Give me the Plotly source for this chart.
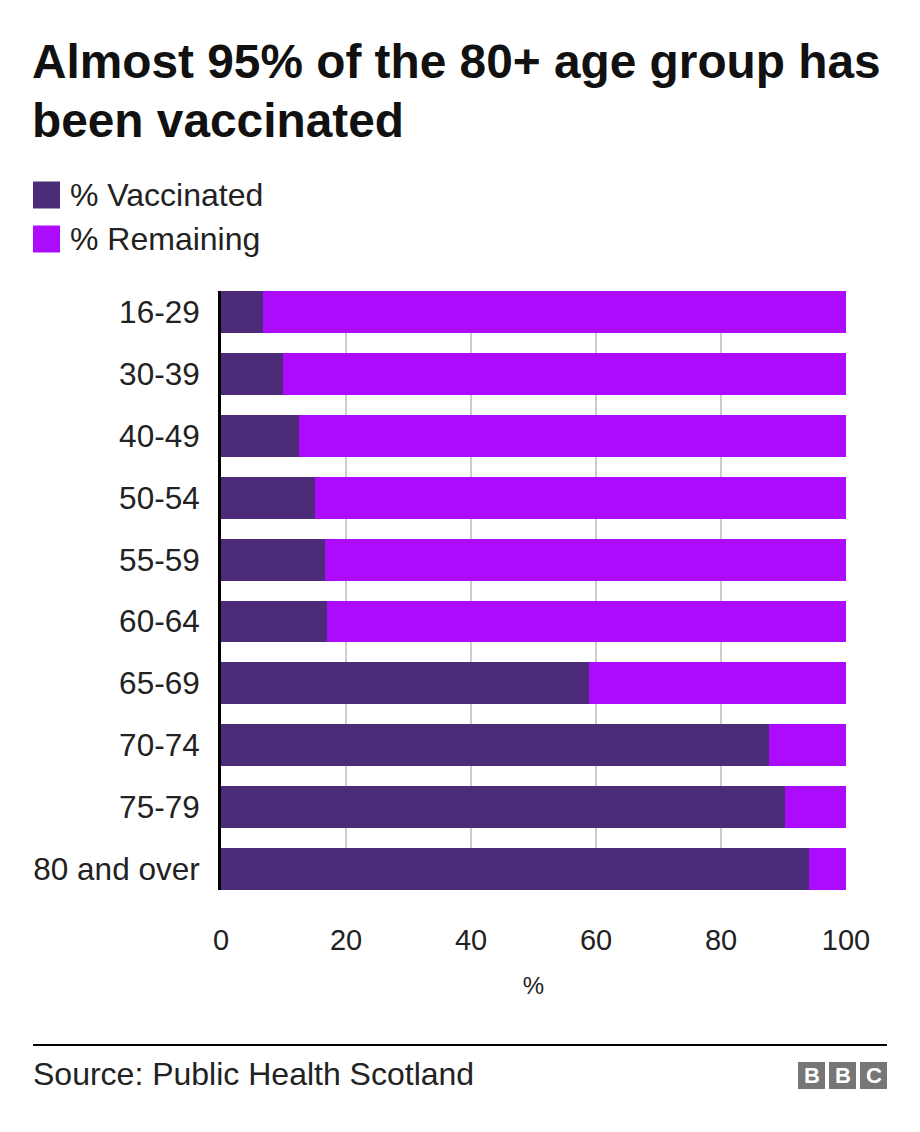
import plotly.graph_objects as go

# ---- data ----
age_groups = ["16-29", "30-39", "40-49", "50-54", "55-59", "60-64",
              "65-69", "70-74", "75-79", "80 and over"]
vaccinated = [6.7, 9.9, 12.5, 15.0, 16.6, 17.0, 58.9, 87.7, 90.2, 94.1]
remaining = [93.3, 90.1, 87.5, 85.0, 83.4, 83.0, 41.1, 12.3, 9.8, 5.9]
series_names = ["% Vaccinated", "% Remaining"]
x_ticks = [0, 20, 40, 60, 80, 100]
title_lines = ["Almost 95% of the 80+ age group has", "been vaccinated"]
source_text = "Source: Public Health Scotland"

# ---- style ----
W, H = 920, 1132
ML, MR, MT, MB = 221, 74, 291, 242
FONT = "Liberation Sans, Arial, Helvetica, sans-serif"
C_VAC = "#4c2c79"
C_REM = "#ac0bfe"
PW = W - ML - MR
PH = H - MT - MB


def px(x):
    return (x - ML) / PW


def py(y):
    return 1 - (y - MT) / PH


fig = go.Figure()
fig.add_trace(go.Bar(y=age_groups, x=vaccinated, orientation="h",
                     name=series_names[0], marker=dict(color=C_VAC, line=dict(width=0))))
fig.add_trace(go.Bar(y=age_groups, x=remaining, orientation="h",
                     name=series_names[1], marker=dict(color=C_REM, line=dict(width=0))))

half = 0.339
fig.update_layout(
    width=W, height=H,
    margin=dict(l=ML, r=MR, t=MT, b=MB),
    barmode="stack",
    bargap=0.323,
    showlegend=False,
    paper_bgcolor="white",
    plot_bgcolor="white",
    font=dict(family=FONT, color="#222222"),
    xaxis=dict(range=[0, 100], tickvals=x_ticks, showgrid=True, gridcolor="#cccccc",
               gridwidth=2, zeroline=False, showline=False, ticks="",
               tickfont=dict(size=29, color="#222222"), ticklabelstandoff=30,
               title=dict(text="%", font=dict(size=24, color="#222222"), standoff=22)),
    yaxis=dict(type="category", range=[len(age_groups) - 1 + half, -half],
               showgrid=False, showline=True, linecolor="#000000", linewidth=3,
               ticks="", tickfont=dict(size=31.5, color="#222222"),
               ticklabelstandoff=12),
)

# title lines
for i, line in enumerate(title_lines):
    fig.add_annotation(text=line, xref="paper", yref="paper", x=px(30), y=py(62 + 58 * i),
                       xanchor="left", yanchor="middle", showarrow=False,
                       font=dict(size=47.8, color="#111111", weight="bold"))

# legend drawn manually
leg_colors = [C_VAC, C_REM]
leg_y = [195, 239]
for name, col, yc in zip(series_names, leg_colors, leg_y):
    fig.add_shape(type="rect", xref="paper", yref="paper",
                  x0=px(33), x1=px(60), y0=py(yc - 13.5), y1=py(yc + 13.5),
                  fillcolor=col, line=dict(width=0))
    fig.add_annotation(text=name, xref="paper", yref="paper", x=px(68), y=py(yc),
                       xanchor="left", yanchor="middle", showarrow=False,
                       font=dict(size=32, color="#222222"))

# footer
fig.add_shape(type="line", xref="paper", yref="paper", x0=px(33), x1=px(887),
              y0=py(1045), y1=py(1045), line=dict(color="#000000", width=2))
fig.add_annotation(text=source_text, xref="paper", yref="paper", x=px(31), y=py(1074),
                   xanchor="left", yanchor="middle", showarrow=False,
                   font=dict(size=32, color="#222222"))
for i, letter in enumerate(["B", "B", "C"]):
    x0 = 798 + i * 31
    fig.add_shape(type="rect", xref="paper", yref="paper", x0=px(x0), x1=px(x0 + 27),
                  y0=py(1089), y1=py(1062), fillcolor="#767676", line=dict(width=0))
    fig.add_annotation(text=letter, xref="paper", yref="paper", x=px(x0 + 13.5), y=py(1075.5),
                       xanchor="center", yanchor="middle", showarrow=False,
                       font=dict(size=22, color="white", weight="bold"))

fig.write_html("out.html")
